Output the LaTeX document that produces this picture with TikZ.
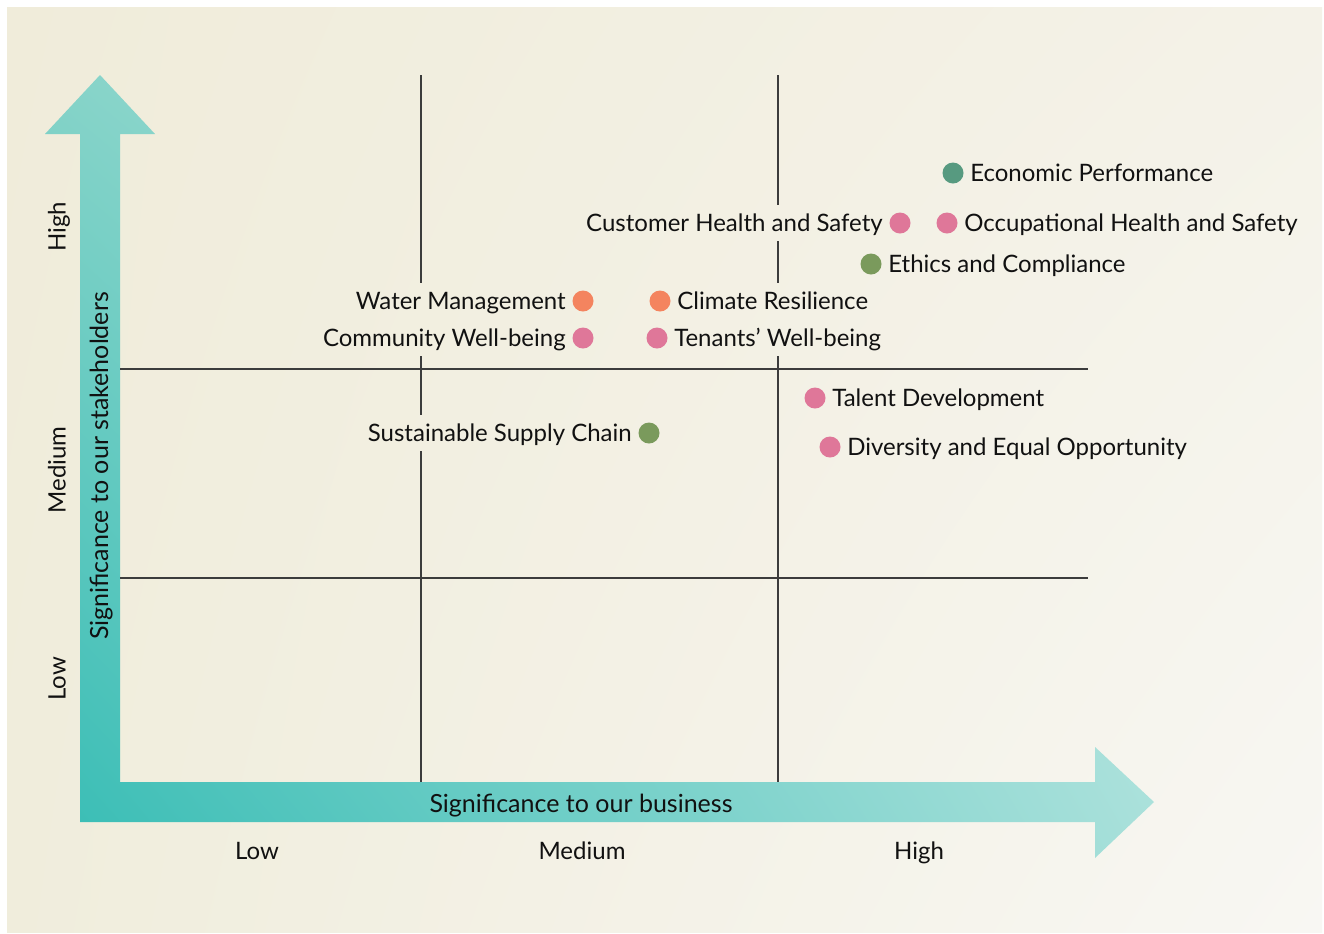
\documentclass[tikz,border=0pt]{standalone}
\usepackage{fontspec}
\setmainfont{Lato}
\usepackage{tikz}
\usetikzlibrary{positioning,shadings}

\definecolor{bgul}{HTML}{F0ECDA}
\definecolor{bgll}{HTML}{F0EDDC}
\definecolor{bgur}{HTML}{F4F2E8}
\definecolor{bglr}{HTML}{F8F7F3}
\definecolor{arrll}{HTML}{35BCB4}
\definecolor{arrul}{HTML}{85D3C8}
\definecolor{arrlr}{HTML}{A8E0DA}
\definecolor{arrur}{HTML}{D0EEE9}
\definecolor{dotpink}{HTML}{DF7799}
\definecolor{dotorange}{HTML}{F4845F}
\definecolor{dotolive}{HTML}{7A9A5C}
\definecolor{dotteal}{HTML}{579A80}
\definecolor{gridgray}{HTML}{3C3C3C}
\definecolor{txt}{HTML}{111111}

\tikzset{
  dot/.style={circle,inner sep=0pt,minimum size=10.5pt},
  lbl/.style={inner xsep=1pt,inner ysep=2.3pt,text height=11pt,text depth=2.4pt,
    font=\fontsize{12}{14}\selectfont,text=txt},
  gridline/.style={gridgray,line width=0.6pt},
  axislbl/.style={inner sep=0pt,text height=8.6pt,text depth=0pt,
    font=\fontsize{12}{14}\selectfont,text=txt},
  axistitle/.style={inner sep=0pt,text height=9pt,text depth=0pt,
    font=\fontsize{12.5}{15}\selectfont,text=txt},
}

\begin{document}
\begin{tikzpicture}[x=0.5pt,y=-0.5pt]
\useasboundingbox (0,0) rectangle (1324,933);
\fill[white] (0,0) rectangle (1324,933);
\shade[upper left=bgul,lower left=bgll,upper right=bgur,lower right=bglr]
  (7,7) rectangle (1322,932);

\shade[upper left=arrul,lower left=arrll,upper right=arrur,lower right=arrlr]
  (80,822) -- (1095,822) -- (1095,858) -- (1154,802) -- (1095,747) -- (1095,782)
  -- (120,782) -- (120,134) -- (155,134) -- (100,75) -- (45,134) -- (80,134) -- cycle;

\node[axistitle] (xtitle) at (581,803) {Significance to our business};
\node[axistitle,rotate=90] (ytitle) at (99,466) {Significance to our stakeholders};
\node[axislbl] (xlow) at (257,851) {Low};
\node[axislbl] (xmed) at (582,851) {Medium};
\node[axislbl] (xhigh) at (919,851) {High};
\node[axislbl,rotate=90] (ylow) at (57,679) {Low};
\node[axislbl,rotate=90] (ymed) at (57,470) {Medium};
\node[axislbl,rotate=90] (yhigh) at (57,227) {High};

\node[dot,fill=dotteal] (econ) at (953,173) {};
\node[lbl,right=2pt of econ] (econ-l) {Economic Performance};
\node[dot,fill=dotpink] (cusths) at (900,223) {};
\node[lbl,left=2pt of cusths] (cusths-l) {Customer Health and Safety};
\node[dot,fill=dotpink] (occhs) at (947,223) {};
\node[lbl,right=2pt of occhs] (occhs-l) {Occupational Health and Safety};
\node[dot,fill=dotolive] (ethics) at (871,264) {};
\node[lbl,right=2pt of ethics] (ethics-l) {Ethics and Compliance};
\node[dot,fill=dotorange] (water) at (583,301) {};
\node[lbl,left=2pt of water] (water-l) {Water Management};
\node[dot,fill=dotorange] (climate) at (660,301) {};
\node[lbl,right=2pt of climate] (climate-l) {Climate Resilience};
\node[dot,fill=dotpink] (community) at (583,338) {};
\node[lbl,left=2pt of community] (community-l) {Community Well-being};
\node[dot,fill=dotpink] (tenants) at (657,338) {};
\node[lbl,right=2pt of tenants] (tenants-l) {Tenants’ Well-being};
\node[dot,fill=dotolive] (supply) at (649,433) {};
\node[lbl,left=2pt of supply] (supply-l) {Sustainable Supply Chain};
\node[dot,fill=dotpink] (talent) at (815,398) {};
\node[lbl,right=2pt of talent] (talent-l) {Talent Development};
\node[dot,fill=dotpink] (diversity) at (830,447) {};
\node[lbl,right=2pt of diversity] (diversity-l) {Diversity and Equal Opportunity};

\coordinate (v1top) at (421,75);
\coordinate (v1bot) at (421,782);
\coordinate (v2top) at (778,75);
\coordinate (v2bot) at (778,782);
\coordinate (h1left) at (120,369);
\coordinate (h1right) at (1088,369);
\coordinate (h2left) at (120,578);
\coordinate (h2right) at (1088,578);
\draw[gridline] (v1top) -- (water-l.north -| v1top)
  (community-l.south -| v1top) -- (supply-l.north -| v1top)
  (supply-l.south -| v1top) -- (v1bot);
\draw[gridline] (v2top) -- (cusths-l.north -| v2top)
  (cusths-l.south -| v2top) -- (climate-l.north -| v2top)
  (tenants-l.south -| v2top) -- (v2bot);
\draw[gridline] (h1left) -- (h1right);
\draw[gridline] (h2left) -- (h2right);
\end{tikzpicture}
\end{document}
